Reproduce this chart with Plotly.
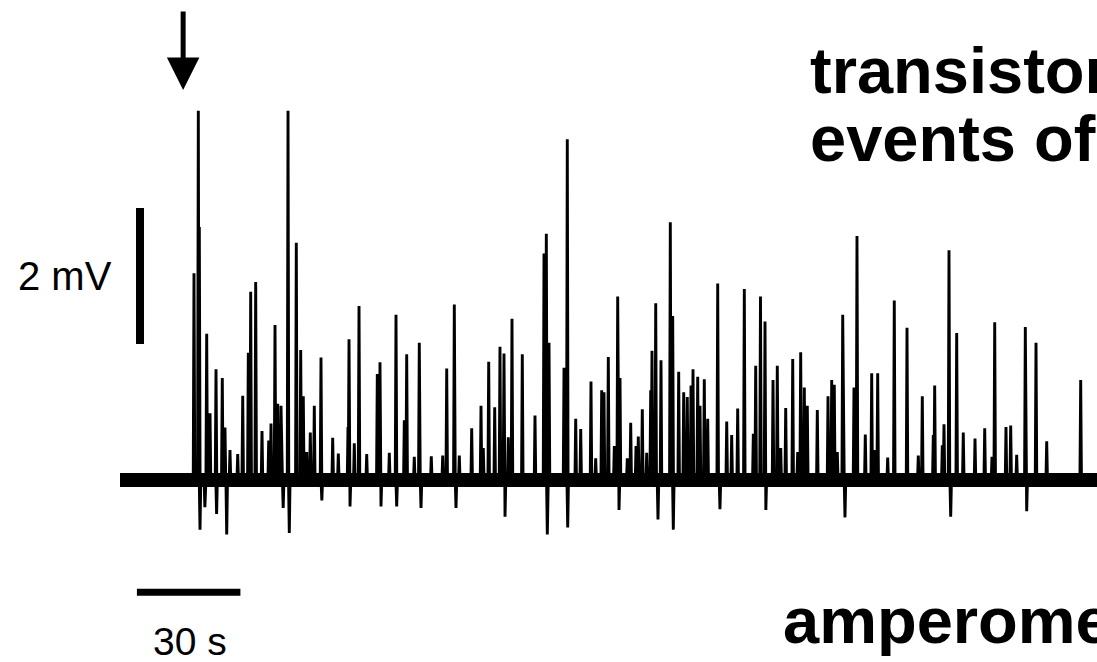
import plotly.graph_objects as go

# ---- data (time in s, amplitude in mV) ----
spike_times = [21.45, 22.70, 22.99, 25.13, 26.09, 27.83, 29.65, 30.43, 31.88, 34.12,
               35.57, 37.19, 37.88, 39.33, 41.16, 43.10, 43.77, 44.93, 45.71, 46.67,
               48.70, 51.10, 52.38, 53.13, 54.12, 55.16, 56.32, 58.26, 61.65, 63.28,
               66.09, 66.38, 67.91, 69.28, 71.51, 74.58, 75.36, 78.06, 80.00, 82.41,
               83.10, 85.30, 86.75, 90.23, 93.54, 94.70, 96.90, 98.35, 101.94, 104.64,
               105.30, 106.87, 108.61, 110.14, 111.30, 112.55, 113.62, 116.61, 120.29, 122.90,
               123.57, 124.35, 128.70, 129.65, 132.09, 133.54, 136.52, 137.88, 139.62, 140.29,
               141.54, 143.28, 144.26, 144.93, 147.04, 148.03, 149.57, 150.23, 151.39, 152.67,
               153.83, 154.20, 155.28, 156.81, 159.51, 160.20, 161.94, 163.39, 164.43, 165.51,
               166.09, 167.45, 168.12, 169.36, 170.35, 173.25, 175.86, 177.30, 179.04, 180.96,
               183.57, 184.26, 185.65, 186.96, 189.28, 190.52, 191.51, 192.96, 194.99, 196.43,
               197.30, 198.35, 199.22, 202.12, 205.22, 206.29, 207.04, 207.91, 209.48, 212.75,
               213.62, 216.03, 217.88, 218.84, 219.62, 222.52, 224.43, 228.12, 231.39, 232.55,
               235.74, 236.14, 238.35, 238.84, 240.29, 242.52, 244.43, 247.83, 250.64, 252.75,
               253.54, 256.81, 258.17, 259.91, 262.41, 265.51, 268.61, 278.46]
spike_amps = [3.04, 5.43, 3.72, 2.15, 0.98, 1.63, 1.50, 0.77, 0.44, 0.38,
              1.24, 1.87, 2.77, 2.91, 0.72, 0.58, 0.83, 2.28, 1.12, 1.09,
              5.43, 3.49, 1.91, 1.23, 0.41, 0.70, 1.09, 1.80, 0.62, 0.39,
              0.78, 2.07, 0.54, 2.56, 0.38, 1.56, 1.73, 0.40, 2.43, 0.88,
              1.85, 0.34, 2.02, 0.35, 0.36, 1.64, 2.58, 0.36, 0.76, 1.09,
              0.47, 1.74, 1.07, 1.96, 1.86, 0.63, 2.37, 1.85, 0.95, 3.33,
              3.62, 2.02, 1.65, 5.01, 0.90, 0.75, 1.45, 0.32, 1.32, 1.29,
              1.81, 0.50, 2.70, 1.50, 0.32, 0.84, 0.50, 0.64, 1.04, 0.40,
              1.32, 1.90, 2.60, 1.76, 3.79, 2.41, 1.59, 1.29, 1.22, 1.39,
              1.63, 1.52, 1.09, 1.48, 0.90, 2.89, 0.86, 0.66, 1.05, 2.81,
              0.68, 1.68, 2.70, 2.33, 1.47, 1.68, 0.47, 1.06, 1.78, 0.41,
              1.88, 1.36, 1.09, 1.03, 1.23, 1.47, 1.40, 0.41, 2.43, 1.36,
              3.59, 0.67, 1.57, 0.44, 1.57, 0.33, 2.64, 2.24, 0.36, 1.23,
              0.66, 1.39, 0.51, 0.82, 3.38, 2.16, 0.70, 0.61, 0.76, 0.34,
              2.32, 0.78, 0.80, 0.37, 2.25, 2.02, 0.57, 1.47]

dip_times = [23.19, 24.60, 28.00, 30.93, 47.30, 49.07, 58.50, 66.67, 75.65, 80.20,
             87.25, 97.39, 111.60, 123.86, 129.77, 144.64, 155.94, 160.38, 173.90, 187.20,
             210.14, 240.78, 262.81]
dip_amps = [-0.73, -0.40, -0.50, -0.80, -0.41, -0.78, -0.30, -0.39, -0.39, -0.39,
            -0.41, -0.41, -0.54, -0.80, -0.70, -0.44, -0.58, -0.73, -0.43, -0.44,
            -0.55, -0.54, -0.46]

record_start = 0.0
record_end = 290.0
stimulus_time = 18.3
scale_mv = 2
scale_s = 30

# ---- build trace ----
events = sorted(zip(spike_times + dip_times, spike_amps + dip_amps))
tx, ty = [record_start], [0.0]
half = 0.22
for t, a in events:
    tx += [t - half, t, t + half]
    ty += [0.0, a, 0.0]
tx.append(record_end)
ty.append(0.0)

fig = go.Figure()
# baseline noise band
fig.add_trace(go.Scatter(x=[record_start, record_end], y=[0, 0], mode="lines",
                         line=dict(color="black", width=14), hoverinfo="skip"))
fig.add_trace(go.Scatter(x=tx, y=ty, mode="lines",
                         line=dict(color="black", width=2.9), hoverinfo="skip"))

# scale bars
sb_t = 5.8
fig.add_trace(go.Scatter(x=[sb_t, sb_t], y=[2.0, 2.0 + scale_mv], mode="lines",
                         line=dict(color="black", width=8), hoverinfo="skip"))
hb_t0 = 4.9
fig.add_trace(go.Scatter(x=[hb_t0, hb_t0 + scale_s], y=[-1.65, -1.65], mode="lines",
                         line=dict(color="black", width=7), hoverinfo="skip"))

W, H = 1097, 662
px_per_s = 3.45
px_per_mv = 68.0
x0_px, y0_px = 120, 480

fig.update_layout(
    width=W, height=H, margin=dict(l=0, r=0, t=0, b=0),
    paper_bgcolor="white", plot_bgcolor="white", showlegend=False,
    xaxis=dict(range=[-x0_px / px_per_s, (W - x0_px) / px_per_s], visible=False, fixedrange=True),
    yaxis=dict(range=[-(H - y0_px) / px_per_mv, y0_px / px_per_mv], visible=False, fixedrange=True),
    font=dict(family="Liberation Sans, Arial, sans-serif", color="black"),
)

# stimulus arrow
fig.add_annotation(x=stimulus_time, y=(y0_px - 90) / px_per_mv, xref="x", yref="y",
                   ax=0, ay=-80, showarrow=True, arrowhead=2, arrowsize=1.3,
                   arrowwidth=5, arrowcolor="black", text="")

# labels
fig.add_annotation(x=65 / W, y=1 - 276 / H, xref="paper", yref="paper", text="2 mV",
                   showarrow=False, font=dict(size=40), xanchor="center", yanchor="middle")
fig.add_annotation(x=190 / W, y=1 - 641 / H, xref="paper", yref="paper", text="30 s",
                   showarrow=False, font=dict(size=39), xanchor="center", yanchor="middle")
bold = dict(size=65, family="Liberation Sans, Arial, sans-serif")
fig.add_annotation(x=808 / W, y=1 - 70 / H, xref="paper", yref="paper", text="<b>transistor</b>",
                   showarrow=False, font=bold, xanchor="left", yanchor="middle")
fig.add_annotation(x=808 / W, y=1 - 139 / H, xref="paper", yref="paper", text="<b>events of</b>",
                   showarrow=False, font=bold, xanchor="left", yanchor="middle")
fig.add_annotation(x=781 / W, y=1 - 620 / H, xref="paper", yref="paper", text="<b>amperometric</b>",
                   showarrow=False, font=bold, xanchor="left", yanchor="middle")

fig.write_html("out.html", config={"displayModeBar": False},
               post_script="document.body.style.margin='0';document.body.style.overflow='hidden';")
